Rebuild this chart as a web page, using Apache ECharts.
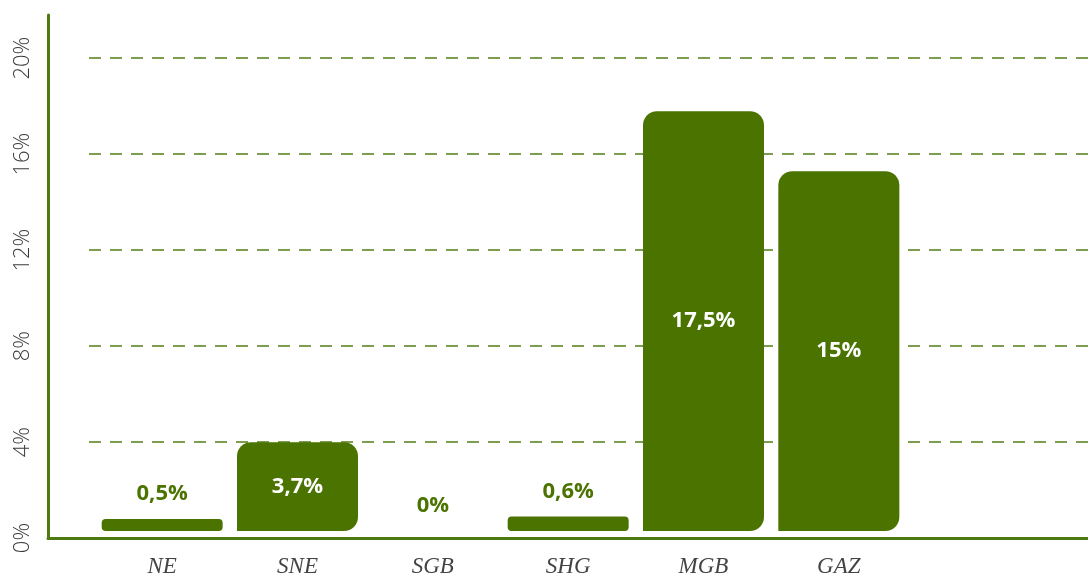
<!DOCTYPE html>
<html>
<head>
<meta charset="utf-8">
<script src="https://cdn.jsdelivr.net/npm/echarts@6/dist/echarts.min.js"></script>
<style>
  html, body { margin: 0; padding: 0; background: #fff; }
  #chart { width: 1088px; height: 577px; }
</style>
</head>
<body>
<div id="chart"></div>
<script>
// données
const categories = ['NE', 'SNE', 'SGB', 'SHG', 'MGB', 'GAZ'];
const values = [0.5, 3.7, 0, 0.6, 17.5, 15];
const yTicks = [0, 4, 8, 12, 16, 20];

const green = '#4a7300';
const yMax = 21.8;

let myChart = echarts.init(document.getElementById('chart'));

// petites barres : étiquette verte au-dessus, sinon blanche dedans
const barData = values.map(function (v) {
  if (v < 2) {
    return {
      value: v,
      itemStyle: { borderRadius: 4 },
      label: { position: 'top', color: green, distance: 14 }
    };
  }
  return { value: v };
});

myChart.setOption({
  animation: false,
  grid: [
    // axes (lignes + graduations)
    { left: 48, right: 0, top: 15, bottom: 39, outerBoundsMode: 'none' },
    // lignes pointillées
    { left: 89, right: 0, top: 15, bottom: 39, outerBoundsMode: 'none' },
    // barres
    { left: 94.5, width: 812, top: 8, bottom: 46, outerBoundsMode: 'none' }
  ],
  xAxis: [
    {
      gridIndex: 0, type: 'value', min: 0, max: 1,
      axisLine: { show: true, lineStyle: { color: '#4e7a12', width: 3 } },
      axisTick: { show: false }, axisLabel: { show: false }, splitLine: { show: false }
    },
    {
      gridIndex: 1, type: 'value', min: 0, max: 1, show: false
    },
    {
      gridIndex: 2, type: 'category', data: categories,
      axisLine: { show: false }, axisTick: { show: false },
      axisLabel: {
        margin: 24,
        fontFamily: 'Liberation Serif', fontStyle: 'italic',
        fontSize: 23, color: '#444'
      }
    }
  ],
  yAxis: [
    {
      gridIndex: 0, type: 'value', min: 0, max: yMax, interval: 4,
      axisLine: { show: true, lineStyle: { color: '#4e7a12', width: 3 } },
      axisTick: { show: false },
      splitLine: { show: false },
      axisLabel: {
        rotate: 90, margin: 14, showMaxLabel: false,
        fontFamily: 'Open Sans', fontWeight: 300, fontSize: 22, color: '#3a3a3a',
        formatter: function (v) { return yTicks.indexOf(v) >= 0 ? v + '%' : ''; }
      }
    },
    {
      gridIndex: 1, type: 'value', min: 0, max: yMax, interval: 4,
      axisLine: { show: false }, axisTick: { show: false }, axisLabel: { show: false },
      splitLine: {
        show: true, showMinLine: false, showMaxLine: false,
        lineStyle: { color: '#537f17', width: 1.5, type: [12, 9] }
      }
    },
    {
      gridIndex: 2, type: 'value', min: 0, max: yMax, show: false
    }
  ],
  series: [
    {
      type: 'bar',
      xAxisIndex: 2,
      yAxisIndex: 2,
      barWidth: 121,
      data: barData,
      itemStyle: { color: green, borderRadius: [14, 14, 14, 0] },
      label: {
        show: true,
        position: 'inside',
        color: '#fff',
        fontFamily: 'Open Sans',
        fontWeight: 'bold',
        fontSize: 22,
        formatter: function (p) { return String(p.value).replace('.', ',') + '%'; }
      }
    }
  ]
});
</script>
</body>
</html>
